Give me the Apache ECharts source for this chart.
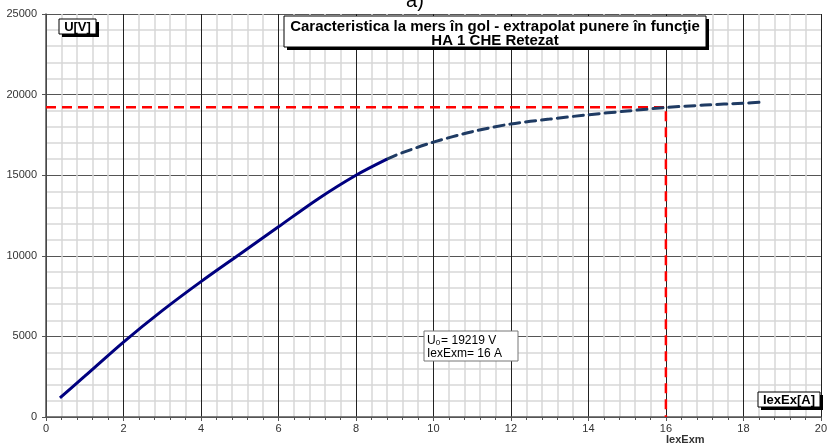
<!DOCTYPE html>
<html>
<head>
<meta charset="utf-8">
<script src="https://cdn.jsdelivr.net/npm/echarts@6/dist/echarts.min.js"></script>
<style>
  html, body { margin: 0; padding: 0; background: #fff; }
  #chart { width: 830px; height: 444px; }
</style>
</head>
<body>
<div id="chart"></div>
<script>
// measured curve (solid part) and extrapolated part (dashed)
const measuredX = [0.36, 1, 2, 3, 4, 5, 6, 7, 8, 8.8];
const measuredU = [1180, 2530, 4650, 6600, 8400, 10100, 11800, 13500, 15000, 16000];
const extrapX = [8.8, 9.2, 10, 11, 12, 13, 14, 15, 16, 17, 18, 18.5];
const extrapU = [16000, 16400, 17050, 17700, 18180, 18480, 18750, 18980, 19200, 19350, 19470, 19530];

const u0 = 19219;
const iexExm = 16;

const titleLines = ['Caracteristica la mers în gol - extrapolat punere în funcţie', 'HA 1 CHE Retezat'];

const pair = (xs, ys) => xs.map((x, i) => [x, ys[i]]);

const chart = echarts.init(document.getElementById('chart'));

const font = '"Liberation Sans", Arial, sans-serif';

// white box with black drop shadow
const shadowBox = (x, y, w, h, lines, fontSize, lineHeight, scaleX, dy) => ([
  { type: 'rect', shape: { x: x + 3, y: y + 3, width: w, height: h }, style: { fill: '#000' }, z: 10 },
  { type: 'rect', shape: { x, y, width: w, height: h }, style: { fill: '#fff', stroke: '#000', lineWidth: 1 }, z: 11 },
  {
    type: 'text', x: x + w / 2, y: y + h / 2 + (dy || 1), z: 12, scaleX: scaleX || 1,
    style: {
      text: lines.join('\n'), align: 'center', verticalAlign: 'middle',
      font: `bold ${fontSize}px ${font}`, fill: '#000', lineHeight: lineHeight || fontSize + 2
    }
  }
]);

chart.setOption({
  animation: false,
  grid: { left: 46, right: 6, top: 14, bottom: 27 },
  xAxis: {
    type: 'value', min: 0, max: 20, interval: 2,
    axisLine: { onZero: false, lineStyle: { color: '#555', width: 1.5 } },
    axisTick: { show: true, length: 4, lineStyle: { color: '#555' } },
    minorTick: { show: true, splitNumber: 5, length: 3, lineStyle: { color: '#555' } },
    axisLabel: { color: '#333', fontSize: 11, fontFamily: font, margin: 6 },
    splitLine: { show: true, lineStyle: { color: '#222', width: 1 } },
    minorSplitLine: { show: true, lineStyle: { color: '#d8d8d8', width: 1.5 } }
  },
  yAxis: {
    type: 'value', min: 0, max: 25000, interval: 5000,
    axisLine: { show: true, lineStyle: { color: '#555', width: 1.5 } },
    axisTick: { show: true, length: 4, lineStyle: { color: '#555' } },
    axisLabel: { color: '#333', fontSize: 11, fontFamily: font, margin: 9, formatter: v => String(v) },
    splitLine: { show: true, lineStyle: { color: '#555', width: 1 } },
    minorSplitLine: { show: true, lineStyle: { color: '#d8d8d8', width: 1.5 } },
    minorTick: { show: false, splitNumber: 5 }
  },
  series: [
    {
      name: 'extrapolat', type: 'line', data: pair(extrapX, extrapU), smooth: 0.3,
      symbol: 'none', z: 4,
      lineStyle: { color: '#1F3B63', width: 3, type: [10, 6], cap: 'round' }
    },
    {
      name: 'masurat', type: 'line', data: pair(measuredX, measuredU), smooth: 0.3,
      symbol: 'none', z: 5,
      lineStyle: { color: '#00007F', width: 3 }
    },
    {
      name: 'U0', type: 'line', data: [[0, u0], [iexExm, u0], [iexExm, 0]],
      symbol: 'none', z: 3,
      lineStyle: { color: '#FF0000', width: 2.5, type: [10, 6] }
    }
  ],
  graphic: [
    {
      type: 'text', x: 415, y: 11,
      style: { text: 'a)', align: 'center', verticalAlign: 'bottom', font: `20px ${font}`, fill: '#000' }
    },
    ...shadowBox(284, 16, 422, 31, titleLines, 14, 14, 1.07, 3),
    ...shadowBox(59, 19, 37, 15, ['U[V]'], 13),
    ...shadowBox(758, 392, 62, 15, ['IexEx[A]'], 13),
    {
      type: 'rect', shape: { x: 424, y: 331, width: 94, height: 30 },
      style: { fill: '#fff', stroke: '#777', lineWidth: 1 }, z: 10
    },
    {
      type: 'text', x: 427, y: 334, z: 11,
      style: {
        text: '{n|U}{s|0}{n|= ' + u0 + ' V}\n{n|IexExm= ' + iexExm + ' A}',
        font: `12px ${font}`, fill: '#000',
        rich: {
          n: { fontSize: 12, fontFamily: font, lineHeight: 13 },
          s: { fontSize: 8, fontFamily: font, verticalAlign: 'bottom', lineHeight: 13, padding: [5, 1, 0, 0] }
        }
      }
    },
    {
      type: 'text', x: 666, y: 440,
      style: { text: 'IexExm', align: 'left', verticalAlign: 'middle', font: `bold 11px ${font}`, fill: '#333' }
    }
  ]
});
</script>
</body>
</html>
